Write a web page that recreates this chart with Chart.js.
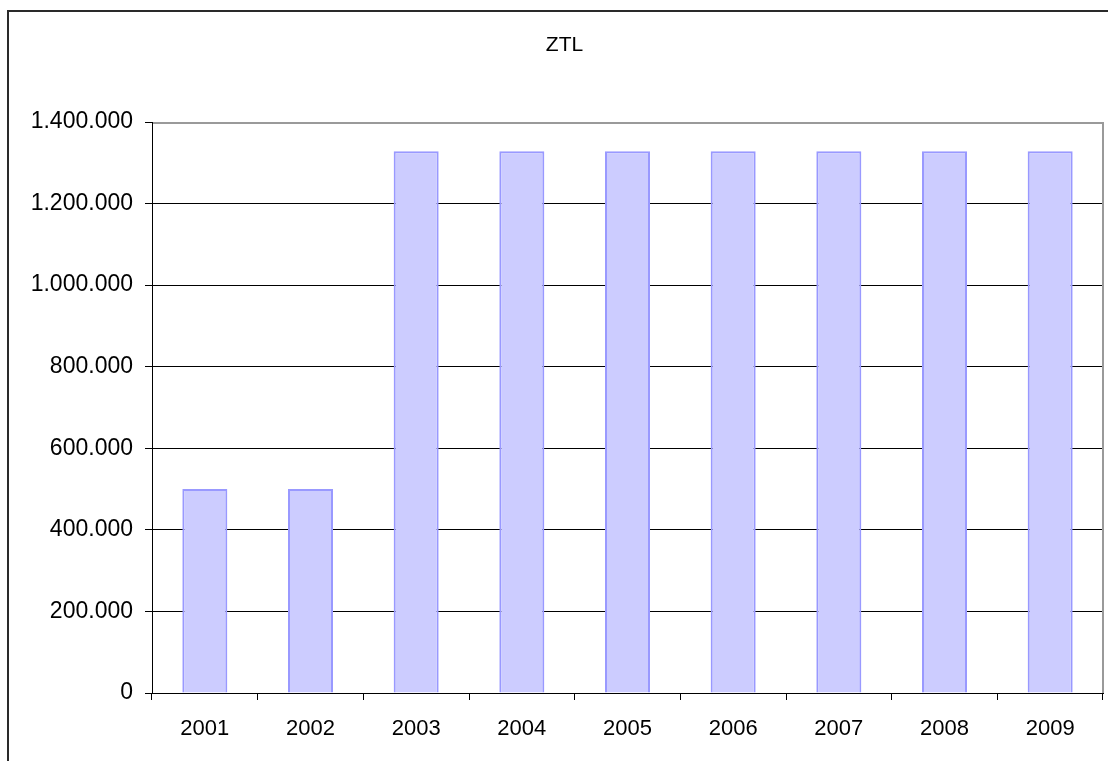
<!DOCTYPE html>
<html>
<head>
<meta charset="utf-8">
<script src="https://cdn.jsdelivr.net/npm/chart.js@4/dist/chart.umd.min.js"></script>
<style>
  html, body { margin: 0; padding: 0; background: #fff; }
  #wrap { position: relative; width: 1108px; height: 761px; }
</style>
</head>
<body>
<div id="wrap"><canvas id="c" width="1108" height="761"></canvas></div>
<script>
const chartTitle = 'ZTL';
const categories = ['2001', '2002', '2003', '2004', '2005', '2006', '2007', '2008', '2009'];
const ztlValues = [500000, 500000, 1328000, 1328000, 1328000, 1328000, 1328000, 1328000, 1328000];
const yTicks = [0, 200000, 400000, 600000, 800000, 1000000, 1200000, 1400000];

function fmt(v) {
  return String(Math.round(v)).replace(/\B(?=(\d{3})+(?!\d))/g, '.');
}

const framePlugin = {
  id: 'frame',
  afterDraw(chart) {
    const ctx = chart.ctx;
    const a = chart.chartArea;
    ctx.save();
    ctx.strokeStyle = '#2a2a2a';
    ctx.lineWidth = 2;
    ctx.beginPath();
    ctx.moveTo(8, chart.height + 2);
    ctx.lineTo(8, 11);
    ctx.lineTo(chart.width + 2, 11);
    ctx.stroke();
    ctx.strokeStyle = '#9a9a9a';
    ctx.lineWidth = 2;
    ctx.beginPath();
    ctx.moveTo(a.left + 1, a.top + 1);
    ctx.lineTo(a.right, a.top + 1);
    ctx.lineTo(a.right, a.bottom);
    ctx.stroke();
    ctx.restore();
  }
};

new Chart(document.getElementById('c'), {
  type: 'bar',
  data: {
    labels: categories,
    datasets: [{
      label: chartTitle,
      data: ztlValues,
      backgroundColor: '#CCCCFF',
      borderColor: '#9999FF',
      borderWidth: 2,
      barPercentage: 0.426,
      categoryPercentage: 1.0
    }]
  },
  options: {
    responsive: false,
    animation: false,
    devicePixelRatio: 1,
    layout: { padding: { left: 26, right: 5, top: 0, bottom: 0 } },
    plugins: {
      legend: { display: false },
      tooltip: { enabled: false },
      title: {
        display: true,
        text: chartTitle,
        color: '#000',
        font: { family: 'Liberation Sans, Arial, sans-serif', size: 21, weight: 'normal', lineHeight: 1.2 },
        padding: { top: 32.4, bottom: 64.4 }
      }
    },
    scales: {
      x: {
        afterFit(scale) { scale.height = 68; },
        grid: {
          offset: true,
          drawOnChartArea: false,
          drawTicks: true,
          tickLength: 7,
          color: '#000',
          lineWidth: 1
        },
        border: { display: true, color: '#000', width: 1 },
        ticks: {
          color: '#000',
          padding: 16,
          maxRotation: 0,
          font: { family: 'Liberation Sans, Arial, sans-serif', size: 22 }
        }
      },
      y: {
        min: 0,
        max: 1400000,
        afterFit(scale) { scale.width = 126; },
        afterBuildTicks(scale) { scale.ticks = yTicks.map(v => ({ value: v })); },
        grid: {
          drawTicks: true,
          tickLength: 7,
          color: '#000',
          lineWidth: 1
        },
        border: { display: true, color: '#000', width: 1 },
        ticks: {
          color: '#000',
          padding: 12,
          font: { family: 'Liberation Sans, Arial, sans-serif', size: 23 },
          callback: (v) => fmt(v)
        }
      }
    }
  },
  plugins: [framePlugin]
});
</script>
</body>
</html>
